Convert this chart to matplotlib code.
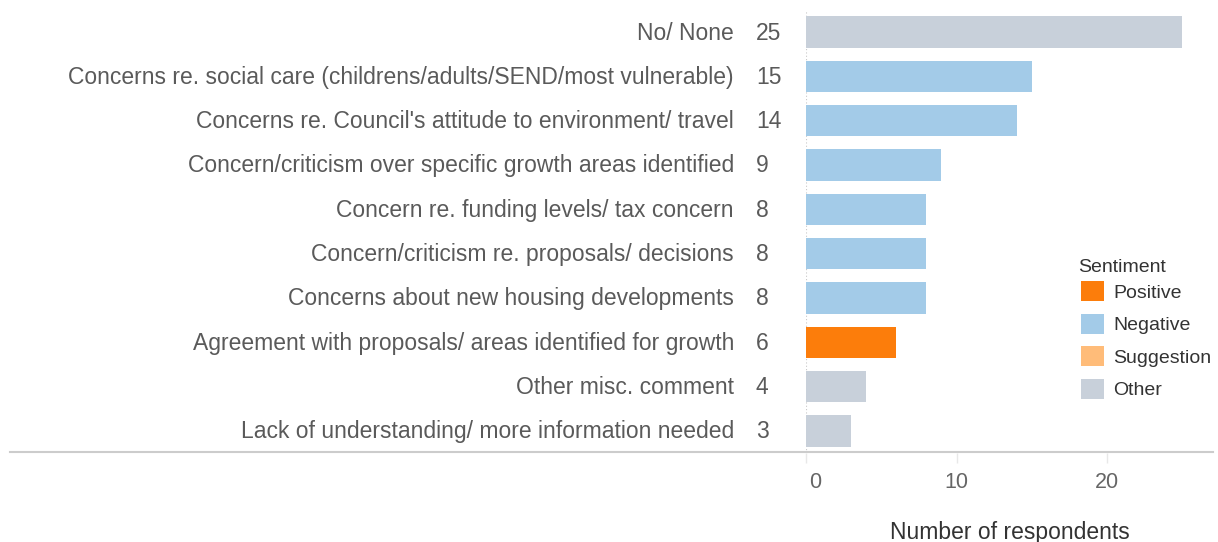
import numpy as np
import matplotlib.pyplot as plt
from matplotlib.patches import Patch
from matplotlib.lines import Line2D
import matplotlib.transforms as mtrans

plt.rcParams['font.family'] = ['Liberation Sans', 'DejaVu Sans']

# data, top row first
categories = [
    "No/ None",
    "Concerns re. social care (childrens/adults/SEND/most vulnerable)",
    "Concerns re. Council's attitude to environment/ travel",
    "Concern/criticism over specific growth areas identified",
    "Concern re. funding levels/ tax concern",
    "Concern/criticism re. proposals/ decisions",
    "Concerns about new housing developments",
    "Agreement with proposals/ areas identified for growth",
    "Other misc. comment",
    "Lack of understanding/ more information needed",
]
counts = [25, 15, 14, 9, 8, 8, 8, 6, 4, 3]
sentiment = ["Other", "Negative", "Negative", "Negative", "Negative",
             "Negative", "Negative", "Positive", "Other", "Other"]

sent_names = ["Positive", "Negative", "Suggestion", "Other"]
sent_colors = {"Positive": "#fc7d0b", "Negative": "#a3cbe8",
               "Suggestion": "#ffbc79", "Other": "#c8d0da"}
xticks = [0, 10, 20]

W, H = 1218, 542
fig = plt.figure(figsize=(W / 100, H / 100), dpi=100)
ax = fig.add_axes([806 / W, 1 - 453 / H, (1213 - 806) / W, 443 / H])

y = np.arange(len(categories))
ax.barh(y, counts, height=0.71, color=[sent_colors[s] for s in sentiment], zorder=2)
ax.set_ylim(len(categories) - 0.5, -0.5)
ax.set_xlim(0, (1213 - 806) / 15.05)

ax.axvline(0, color="#c8c8c8", linestyle=(0, (1, 2)), linewidth=0.8, zorder=1)

ax.set_yticks(y)
ax.set_yticklabels([])
ax.tick_params(axis="y", length=0)
lab_tr = mtrans.blended_transform_factory(ax.transAxes, ax.transData)
for i, (c, n) in enumerate(zip(categories, counts)):
    ax.text(-72 / (1213 - 806), i + 0.02, c, transform=lab_tr, ha="right", va="center",
            fontsize=16.5, color="#5a5a5a")
    ax.text(-50 / (1213 - 806), i + 0.02, str(n), transform=lab_tr, ha="left", va="center",
            fontsize=16.5, color="#5a5a5a")

ax.set_xticks(xticks)
ax.set_xticklabels([str(t) for t in xticks])
ax.tick_params(axis="x", length=7, color="#e8e8e8", width=1, pad=7,
               labelsize=15.5, labelcolor="#666666")
# nudge the 0 label right a bit like the original
lbl0 = ax.get_xticklabels()[0]
lbl0.set_transform(lbl0.get_transform() + mtrans.ScaledTranslation(9 / 100, 0, fig.dpi_scale_trans))

ax.set_xlabel("Number of respondents", fontsize=16.5, color="#333333", labelpad=20)

for s in ax.spines.values():
    s.set_visible(False)

# baseline across the whole width
fig.add_artist(Line2D([10 / W, 1213 / W], [1 - 452 / H, 1 - 452 / H],
                      color="#cccccc", linewidth=1.5, transform=fig.transFigure))

handles = [Patch(facecolor=sent_colors[s], edgecolor="none") for s in sent_names]
leg = fig.legend(handles, sent_names, loc="upper left",
                 bbox_to_anchor=(1081 / W, 1 - 281 / H), frameon=False, borderpad=0,
                 borderaxespad=0, fontsize=14, handlelength=1.19,
                 handleheight=1.2, handletextpad=0.45, labelspacing=0.62)
for t in leg.get_texts():
    t.set_color("#333333")
fig.text(1078 / W, 1 - 267 / H, "Sentiment", fontsize=14, color="#333333",
         ha="left", va="center")

fig.savefig("out.png", dpi=100)
